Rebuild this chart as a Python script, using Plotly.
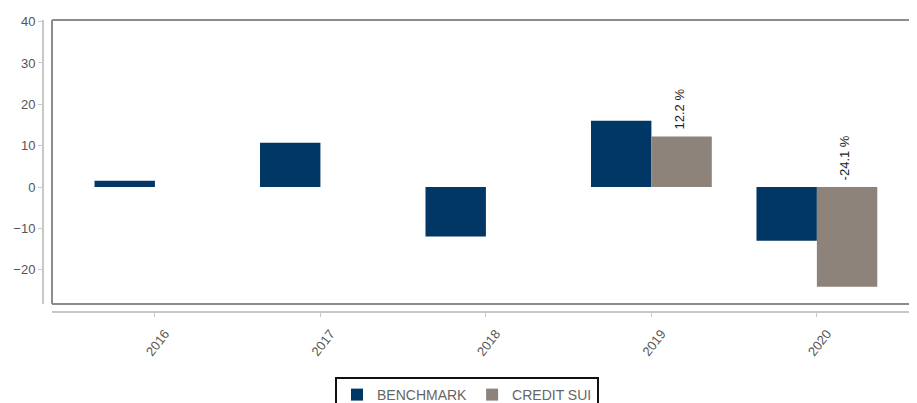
import plotly.graph_objects as go

years = ["2016", "2017", "2018", "2019", "2020"]
benchmark = [1.5, 10.7, -12.0, 16.0, -13.0]
credit_suisse = [None, None, None, 12.2, -24.1]
credit_labels = ["", "", "", "12.2 %", "-24.1 %"]

# page body adds an 8px offset, so the figure is drawn 8px smaller
W, H = 909, 395
ML, MT, MB = 35, 12, 91
pw, ph = W - ML, H - MT - MB

fig = go.Figure()
fig.add_trace(go.Bar(x=years, y=benchmark, name="BENCHMARK",
                     marker_color="#003764", marker_line_width=0))
fig.add_trace(go.Bar(x=years, y=credit_suisse, name="CREDIT SUI",
                     marker_color="#8d837a", marker_line_width=0))

# value labels above the credit bars
for i, (v, lab) in enumerate(zip(credit_suisse, credit_labels)):
    if v is None:
        continue
    fig.add_annotation(x=i, y=max(v, 0), xref="x", yref="y", text=lab,
                       showarrow=False, textangle=-90,
                       xanchor="center", yanchor="bottom",
                       xshift=28, yshift=5,
                       font=dict(size=13, color="#222222"))

# frame around plot area (right side runs off the picture)
frame = dict(color="#8c8c8c", width=2)
fig.add_shape(type="line", xref="x domain", yref="y domain", x0=0, x1=1, y0=1, y1=1, line=frame)
fig.add_shape(type="line", xref="x domain", yref="y domain", x0=0, x1=1, y0=0, y1=0, line=frame)
fig.add_shape(type="line", xref="x domain", yref="y domain", x0=0, x1=0, y0=0, y1=1, line=frame)

fig.update_layout(
    width=W, height=H,
    margin=dict(l=ML, r=0, t=MT, b=MB, autoexpand=False),
    paper_bgcolor="white", plot_bgcolor="white",
    font=dict(family="Liberation Sans, Arial", size=12, color="#555555"),
    barmode="group", bargap=0.27, bargroupgap=0,
    showlegend=True,
    legend=dict(orientation="h", x=459 / W, xanchor="center",
                xref="container", yref="container",
                y=(H - 369) / H, yanchor="top",
                bordercolor="#111111", borderwidth=2,
                font=dict(size=14, color="#666666"),
                itemwidth=30, tracegroupgap=0),
    xaxis=dict(type="category", domain=[9 / pw, 1], anchor="free", position=0,
               range=[-0.622, 4.605],
               showline=True, linecolor="#c8c8c8", linewidth=2,
               ticks="outside", ticklen=4, tickcolor="#c8c8c8",
               tickangle=-52, ticklabelshift=10, ticklabelstandoff=4,
               showgrid=False, zeroline=False,
               tickfont=dict(size=13, color="#555555")),
    yaxis=dict(domain=[8 / ph, 1], anchor="free", position=0,
               range=[-28.3, 40.4], tickvals=[-20, -10, 0, 10, 20, 30, 40],
               showline=True, linecolor="#c8c8c8", linewidth=2,
               ticks="outside", ticklen=4, tickcolor="#c8c8c8",
               showgrid=False, zeroline=False,
               tickfont=dict(size=13, color="#555555")),
)

fig.write_html("out.html")
